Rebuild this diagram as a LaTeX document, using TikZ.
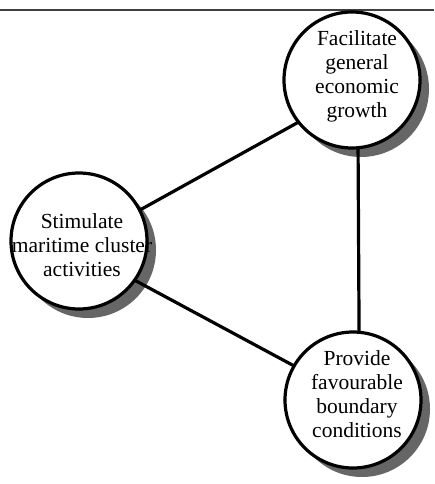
\documentclass[tikz,border=0pt]{standalone}
\usepackage{fontspec}
\setmainfont{Liberation Serif}
\begin{document}
\begin{tikzpicture}[x=1pt,y=-1pt,
  goal/.style={circle,draw=black,line width=3.2pt,fill=white,inner sep=0pt,minimum size=136pt},
  shade/.style={circle,fill=black!60,inner sep=0pt,minimum size=136pt},
  label/.style={align=center,inner sep=0pt,font=\fontsize{21.5}{24}\selectfont},
  link/.style={line width=3.2pt,line cap=round}]
\useasboundingbox (0,0) rectangle (434,484);
% rule along the top edge
\draw[black!75,line width=1.8pt] (0,10) -- (434,10);
% drop shadows of the three circles
\node[shade] (topsh)  at (361,89)  {};
\node[shade] (leftsh) at (88,250)  {};
\node[shade] (botsh)  at (362,409) {};
% circles
\node[goal] (top)  at (352,80)  {};
\node[goal] (left) at (79,241)  {};
\node[goal] (bot)  at (353,400) {};
% connectors
\draw[link] (left.27)  -- (top.218);
\draw[link] (left.-35) -- (bot.150);
\draw[link] (top.-85)  -- (bot.85);
% texts
\node[label] (toptext)  at (357,76)  {Facilitate\\general\\economic\\growth};
\node[label] (lefttext) at (82,245)  {Stimulate\\maritime cluster\\activities};
\node[label] (bottext)  at (357,394) {Provide\\favourable\\boundary\\conditions};
\end{tikzpicture}
\end{document}
